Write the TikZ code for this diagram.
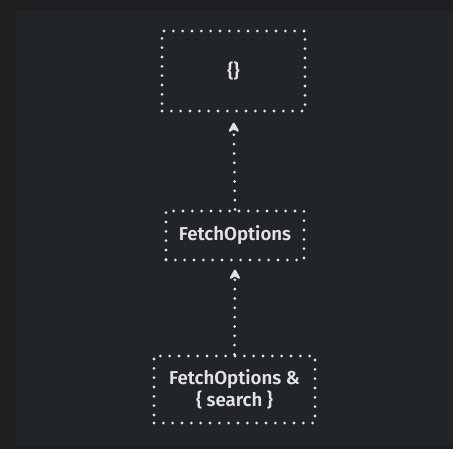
\documentclass[tikz,border=0pt]{standalone}
\usepackage{fontspec}
\setmainfont{Fira Sans}[BoldFont={Fira Sans SemiBold}]
\usetikzlibrary{arrows.meta}
\definecolor{outerbg}{HTML}{1E1E1E}
\definecolor{panelbg}{HTML}{212429}
\definecolor{ink}{HTML}{E2E2E2}
\tikzset{
  dotbox/.style={draw=ink, line width=2.3pt, dash pattern=on 0pt off 7pt, line cap=round,
    text=ink, font=\bfseries\fontsize{14}{16.5}\selectfont, align=center, inner sep=0pt},
  dotarrow/.style={draw=ink, line width=2.3pt, dash pattern=on 0pt off 7pt, line cap=round,
    -{Stealth[length=9pt,width=10pt,inset=3pt,round]}}
}
\begin{document}
\begin{tikzpicture}[x=0.75pt,y=-0.75pt]
  \fill[outerbg] (0,0) rectangle (453,449);
  \fill[panelbg] (16,10) rectangle (453,446);
  \useasboundingbox (0,0) rectangle (453,449);
  \node[dotbox, minimum width=107.25pt, minimum height=60pt] (top) at (233.5,71) {\{\}};
  \node[dotbox, minimum width=103.5pt, minimum height=36.75pt] (mid) at (235,235.5) {FetchOptions};
  \node[dotbox, minimum width=120.75pt, minimum height=50.25pt] (bot) at (234.5,389.5) {FetchOptions \&\\\{ search \}};
  \draw[dotarrow, shorten >=7.5pt] (mid.north) -- (top.south);
  \draw[dotarrow, shorten >=6pt] (bot.north) -- (mid.south);
\end{tikzpicture}
\end{document}
